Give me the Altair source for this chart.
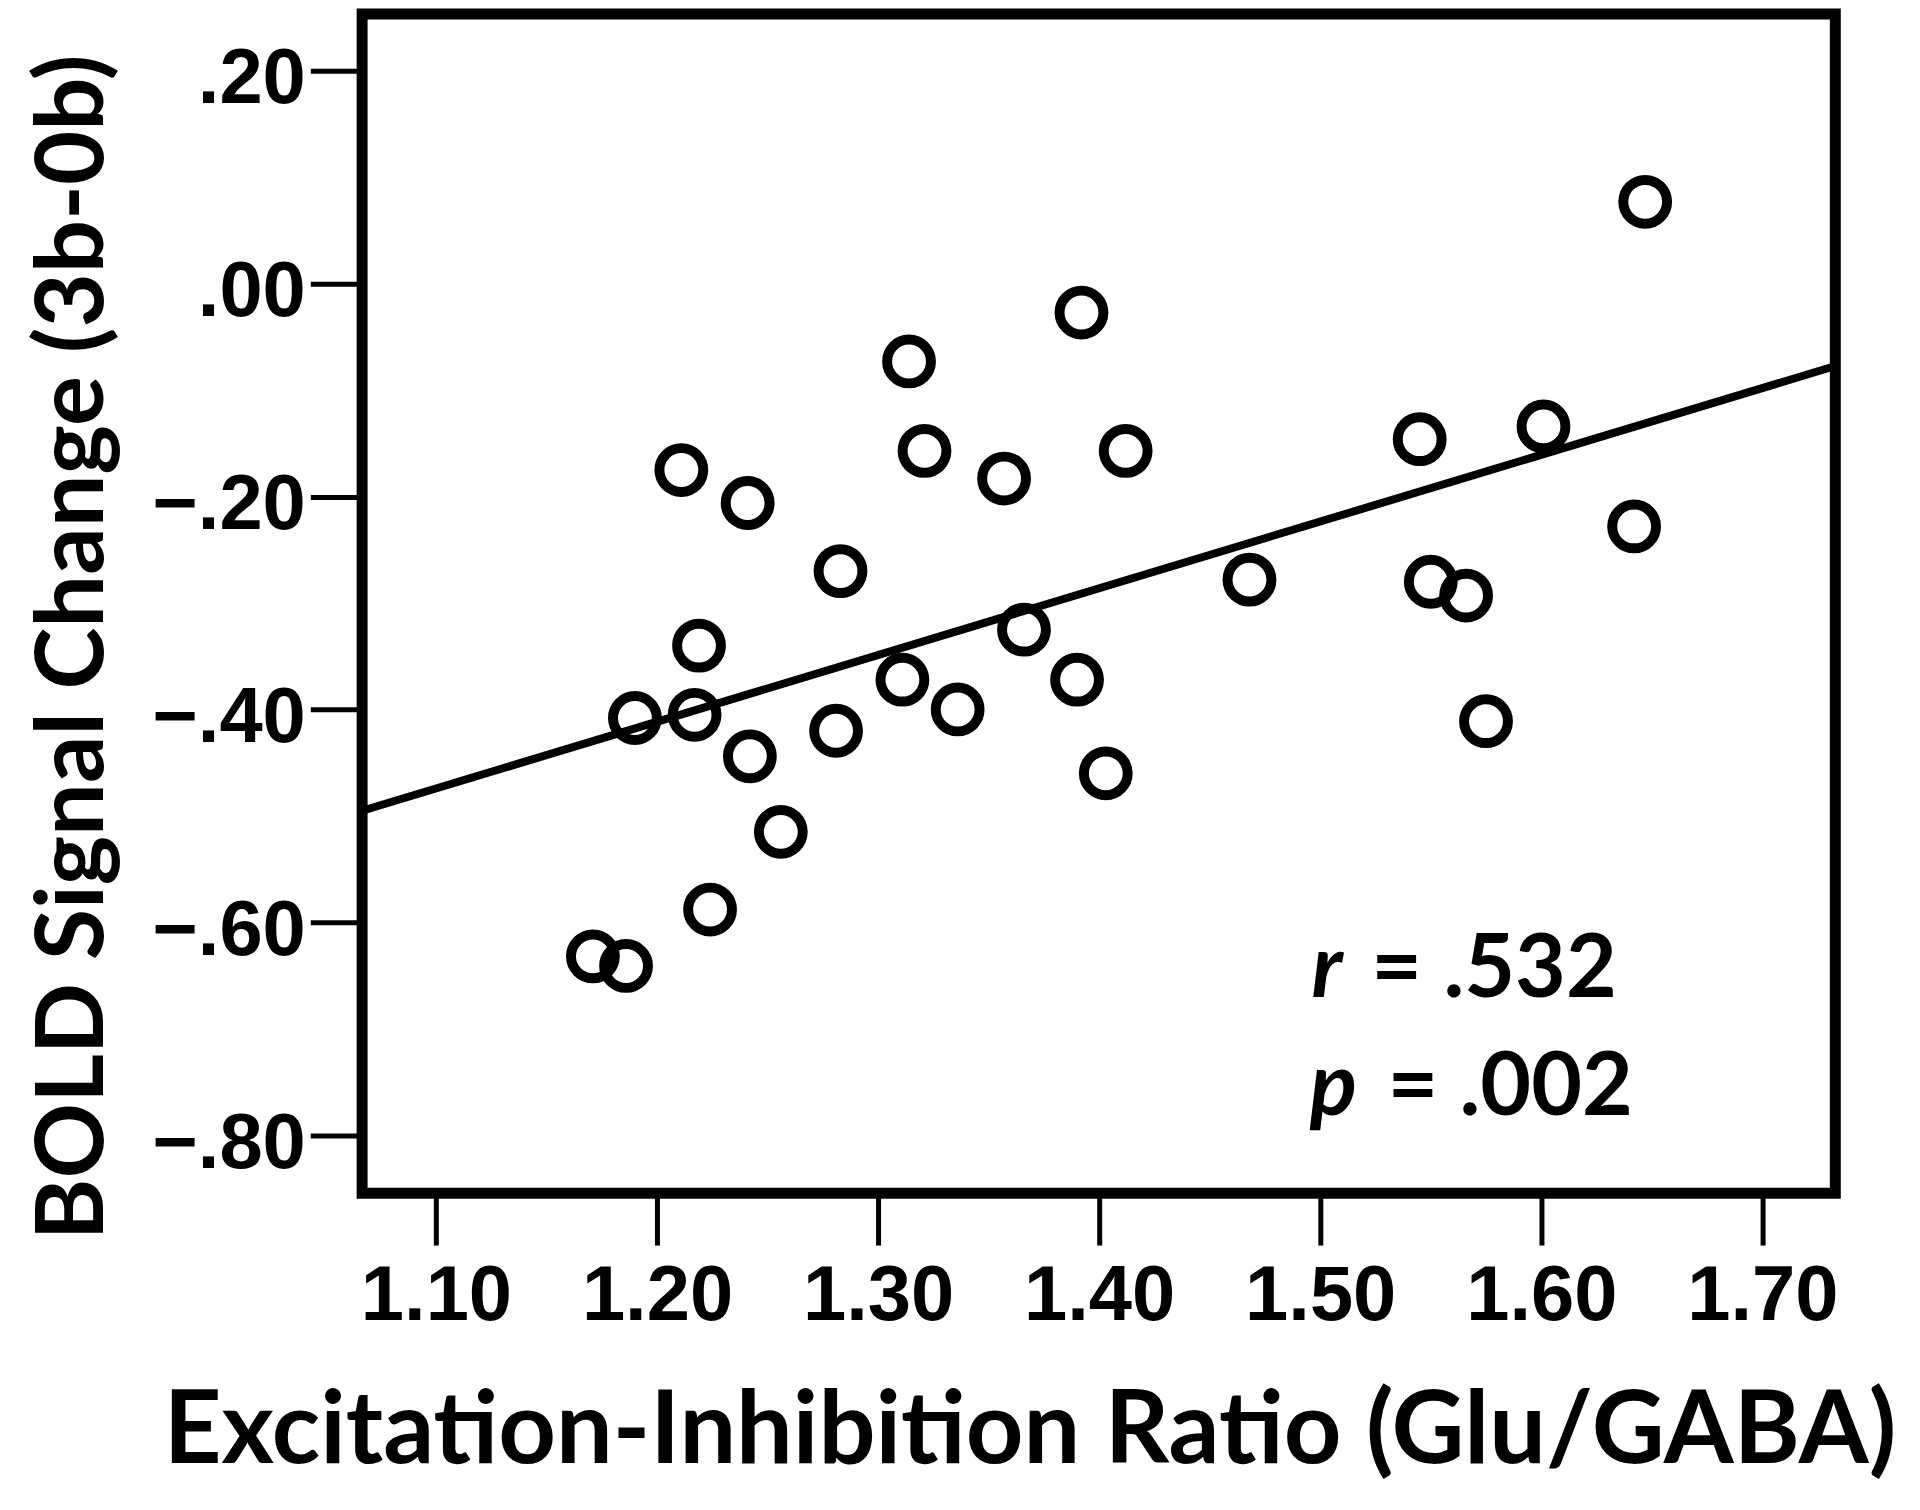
import altair as alt
import pandas as pd

# ---- data ----
ei_ratio = [1.392, 1.314, 1.321, 1.211, 1.241, 1.357, 1.412, 1.283, 1.219, 1.366,
            1.311, 1.390, 1.190, 1.217, 1.242, 1.281, 1.336, 1.403, 1.256, 1.224,
            1.171, 1.186, 1.647, 1.545, 1.601, 1.642, 1.468, 1.550, 1.566, 1.575]
bold_change = [-0.027, -0.073, -0.157, -0.175, -0.206, -0.183, -0.157, -0.270, -0.340, -0.325,
               -0.372, -0.372, -0.408, -0.405, -0.444, -0.420, -0.400, -0.460, -0.515, -0.588,
               -0.632, -0.641, 0.077, -0.146, -0.134, -0.228, -0.278, -0.280, -0.293, -0.411]

x_ticks = [1.10, 1.20, 1.30, 1.40, 1.50, 1.60, 1.70]
y_ticks = [-0.80, -0.60, -0.40, -0.20, 0.00, 0.20]

stat_symbols = ["r", "p"]
stat_texts = ["= .532", "= .002"]

# annotation anchors in data coordinates
stat_sym_x = [1.4961, 1.4953]
stat_val_x = [1.5231, 1.5304]
stat_y = [-0.6705, -0.7813]

X_DOMAIN = [1.0666, 1.7330]
Y_DOMAIN = [-0.8546, 0.2536]

df = pd.DataFrame({"ratio": ei_ratio, "bold": bold_change})
sym_df = pd.DataFrame({"ratio": stat_sym_x, "bold": stat_y, "label": stat_symbols})
val_df = pd.DataFrame({"ratio": stat_val_x, "bold": stat_y, "label": stat_texts})

xs = alt.Scale(domain=X_DOMAIN, nice=False, zero=False)
ys = alt.Scale(domain=Y_DOMAIN, nice=False, zero=False)

x_axis = alt.Axis(values=x_ticks, format=".2f",
                  title="Excitation-Inhibition Ratio (Glu/GABA)",
                  titleX=670, titleY=270, titleAlign="center",
                  titleBaseline="alphabetic", labelPadding=13,
                  labelFlush=False)
y_axis = alt.Axis(values=y_ticks,
                  labelExpr="replace(format(datum.value, '.2f'), '0.', '.')",
                  title="BOLD Signal Change (3b-0b)",
                  titleAngle=270, titleX=-261, titleY=635.5,
                  titleAlign="center", titleBaseline="alphabetic",
                  titleFontSize=94,
                  labelPadding=5, labelOffset=9, labelFlush=False)

X = alt.X("ratio:Q", scale=xs, axis=x_axis)
Y = alt.Y("bold:Q", scale=ys, axis=y_axis)

points = alt.Chart(df).mark_point(
    shape="circle", filled=False, size=1936, strokeWidth=10, color="black", opacity=1
).encode(x=X, y=Y)

line = alt.Chart(df).transform_regression(
    "ratio", "bold", extent=X_DOMAIN
).mark_line(color="black", strokeWidth=8).encode(x=X, y=Y)

sym = alt.Chart(sym_df).mark_text(
    align="left", baseline="alphabetic", font="Lato", fontWeight="bold",
    fontStyle="italic", fontSize=88, color="black"
).encode(x=X, y=Y, text="label:N")

val = alt.Chart(val_df).mark_text(
    align="left", baseline="alphabetic", font="Lato", fontWeight="bold",
    fontSize=88, color="black"
).encode(x=X, y=Y, text="label:N")

chart = alt.layer(points, line, sym, val).properties(
    width=1479, height=1184,
    padding={"left": 355.5, "top": 3, "right": 77, "bottom": 300},
    autosize=alt.AutoSizeParams(type="none"),
    background="white",
).configure_view(
    stroke="black", strokeWidth=11
).configure_axis(
    domain=False, grid=False, ticks=True, tickColor="black", tickWidth=5, tickSize=52,
    labelFont="Liberation Sans", labelFontWeight="bold", labelFontSize=78, labelColor="black",
    titleFont="Lato", titleFontWeight="bold", titleFontSize=101, titleColor="black",
)

chart.save("out.html", embed_options={"renderer": "svg", "actions": False})
